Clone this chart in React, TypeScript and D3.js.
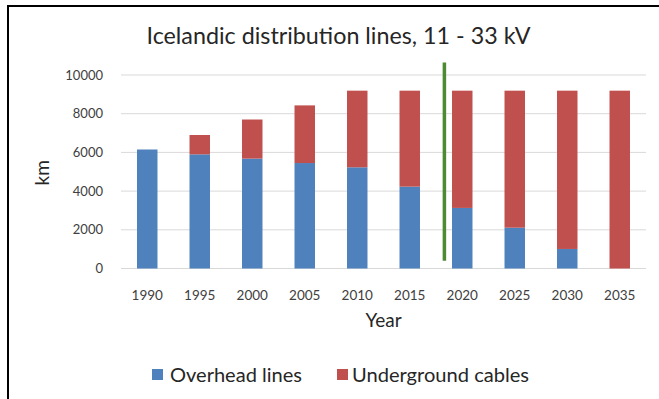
import React from "react";
import * as d3 from "d3";

// Distribution line length by year (km)
const years = ["1990", "1995", "2000", "2005", "2010", "2015", "2020", "2025", "2030", "2035"];
const overheadLines = [6150, 5900, 5680, 5450, 5230, 4230, 3130, 2110, 1010, 0];
const undergroundCables = [0, 1000, 2020, 2980, 3960, 4960, 6060, 7080, 8180, 9190];
const yTicks = [0, 2000, 4000, 6000, 8000, 10000];
const seriesNames = ["Overhead lines", "Underground cables"];
const seriesColors = ["#4f81bd", "#c0504d"];

// Vertical "present day" marker between 2015 and 2020
const markerYear = 2018.3;
const markerRange = [400, 10650];

const W = 659;
const H = 399;
const FONT = "Lato, 'Open Sans', sans-serif";

export default function App() {
  const plotLeft = 121;
  const plotRight = 646;
  const plotTop = 75;
  const plotBottom = 268.5;

  const x = d3
    .scaleBand<string>()
    .domain(years)
    .range([plotLeft, plotRight])
    .paddingInner(0.61)
    .paddingOuter(0.305);
  const y = d3.scaleLinear().domain([0, 10000]).range([plotBottom, plotTop]);

  const bw = x.bandwidth();
  const yearPos = d3
    .scaleLinear()
    .domain([+years[0], +years[years.length - 1]])
    .range([x(years[0])! + bw / 2, x(years[years.length - 1])! + bw / 2]);

  const stacked = years.map((yr, i) => ({ yr, o: overheadLines[i], u: undergroundCables[i] }));

  return (
    <svg
      width={W}
      height={H}
      viewBox={`0 0 ${W} ${H}`}
      style={{ position: "absolute", left: 0, top: 0, background: "#fff" }}
      fontFamily={FONT}
    >
      <rect x={8} y={6} width={W + 20} height={H + 20} fill="#fff" stroke="#000" strokeWidth={2} />

      <text
        x={338.5}
        y={43.5}
        textAnchor="middle"
        fontSize={23}
        fill="#262626"
        textLength={384}
        lengthAdjust="spacingAndGlyphs"
      >
        Icelandic distribution lines, 11 - 33 kV
      </text>

      {yTicks.map((t) => (
        <g key={t}>
          <line x1={plotLeft} x2={plotRight} y1={y(t)} y2={y(t)} stroke="#d9d9d9" strokeWidth={1} />
          <text x={103} y={y(t)} dy="0.35em" textAnchor="end" fontSize={13} fill="#404040">
            {t}
          </text>
        </g>
      ))}

      {stacked.map((d) => (
        <g key={d.yr}>
          {d.o > 0 && (
            <rect x={x(d.yr)} y={y(d.o)} width={bw} height={y(0) - y(d.o)} fill={seriesColors[0]} />
          )}
          {d.u > 0 && (
            <rect
              x={x(d.yr)}
              y={y(d.o + d.u)}
              width={bw}
              height={y(d.o) - y(d.o + d.u)}
              fill={seriesColors[1]}
            />
          )}
          <text
            x={x(d.yr)! + bw / 2}
            y={300}
            textAnchor="middle"
            fontSize={13.5}
            fill="#404040"
          >
            {d.yr}
          </text>
        </g>
      ))}

      <line
        x1={yearPos(markerYear)}
        x2={yearPos(markerYear)}
        y1={y(markerRange[0])}
        y2={y(markerRange[1])}
        stroke="#4e8a32"
        strokeWidth={3.5}
      />

      <text x={(plotLeft + plotRight) / 2} y={327} textAnchor="middle" fontSize={19} fill="#262626">
        Year
      </text>
      <text
        transform={`translate(49, ${(plotTop + plotBottom) / 2 + 1}) rotate(-90)`}
        textAnchor="middle"
        fontSize={19}
        fill="#262626"
      >
        km
      </text>

      <g>
        <rect x={152} y={369} width={11} height={11} fill={seriesColors[0]} />
        <text x={170} y={382} fontSize={19.5} fill="#262626" textLength={132} lengthAdjust="spacingAndGlyphs">
          {seriesNames[0]}
        </text>
        <rect x={337} y={369} width={11} height={11} fill={seriesColors[1]} />
        <text x={352} y={382} fontSize={19.5} fill="#262626" textLength={177} lengthAdjust="spacingAndGlyphs">
          {seriesNames[1]}
        </text>
      </g>
    </svg>
  );
}
